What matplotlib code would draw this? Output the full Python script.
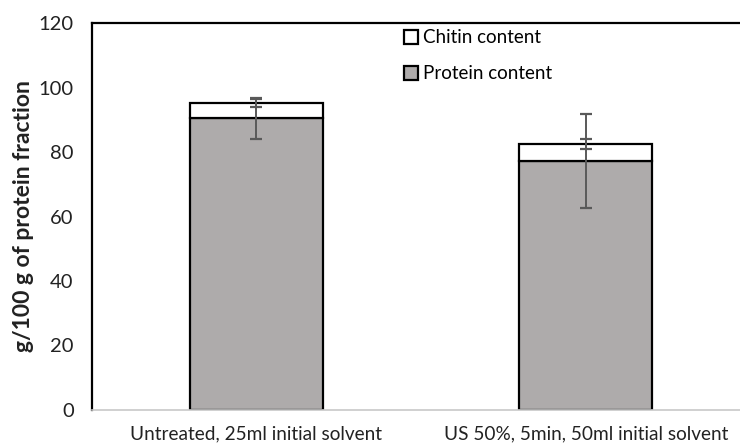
import matplotlib
matplotlib.use("Agg")
import matplotlib.pyplot as plt
import numpy as np

# data
categories = ["Untreated, 25ml initial solvent", "US 50%, 5min, 50ml initial solvent"]
protein = [90.4, 77.2]
protein_err = [6.4, 14.7]
chitin = [4.9, 5.2]
chitin_err = [1.2, 1.5]
yticks = [0, 20, 40, 60, 80, 100, 120]

plt.rcParams['font.family'] = ['Lato', 'DejaVu Sans']

fig = plt.figure(figsize=(7.4, 4.47), dpi=100)
ax = fig.add_axes([0.124, 0.0828, 0.89, 0.8657])

x = np.arange(len(categories))
width = 0.405
err_kw = dict(ecolor="#595959", elinewidth=1.4, capsize=4, capthick=1.6)

p_bars = ax.bar(x, protein, width, color="#aeabab", edgecolor="black",
                linewidth=1.6, label="Protein content")
c_bars = ax.bar(x, chitin, width, bottom=protein, color="white",
                edgecolor="black", linewidth=1.6, label="Chitin content")
ax.errorbar(x, protein, yerr=protein_err, fmt="none", **err_kw)
ax.errorbar(x, np.array(protein) + np.array(chitin), yerr=chitin_err,
            fmt="none", **err_kw)

ax.set_xlim(-0.5, 1.5)
ax.set_ylim(0, 120)
ax.set_yticks(yticks)
ax.set_xticks(x)
ax.set_xticklabels(categories, fontsize=13.7, color="#222222")
ax.tick_params(axis="y", labelsize=14.5, colors="#222222", length=0, pad=13)
ax.tick_params(axis="x", length=0, pad=11)
ax.set_ylabel("g/100 g of protein fraction", fontsize=16.5, fontweight="bold",
              color="#222222", labelpad=3)

for s in ["left", "top", "right"]:
    ax.spines[s].set_color("black")
    ax.spines[s].set_linewidth(1.6)
ax.spines["bottom"].set_color("#c8c8c8")
ax.spines["bottom"].set_linewidth(1.2)

ax.legend([c_bars, p_bars], ["Chitin content", "Protein content"],
          loc="upper left", bbox_to_anchor=(0.533, 0.955),
          bbox_transform=fig.transFigure, frameon=False, fontsize=13.5,
          handlelength=0.75, handleheight=0.75, handletextpad=0.25,
          labelspacing=1.0, borderpad=0)

fig.savefig("out.png", dpi=100)
